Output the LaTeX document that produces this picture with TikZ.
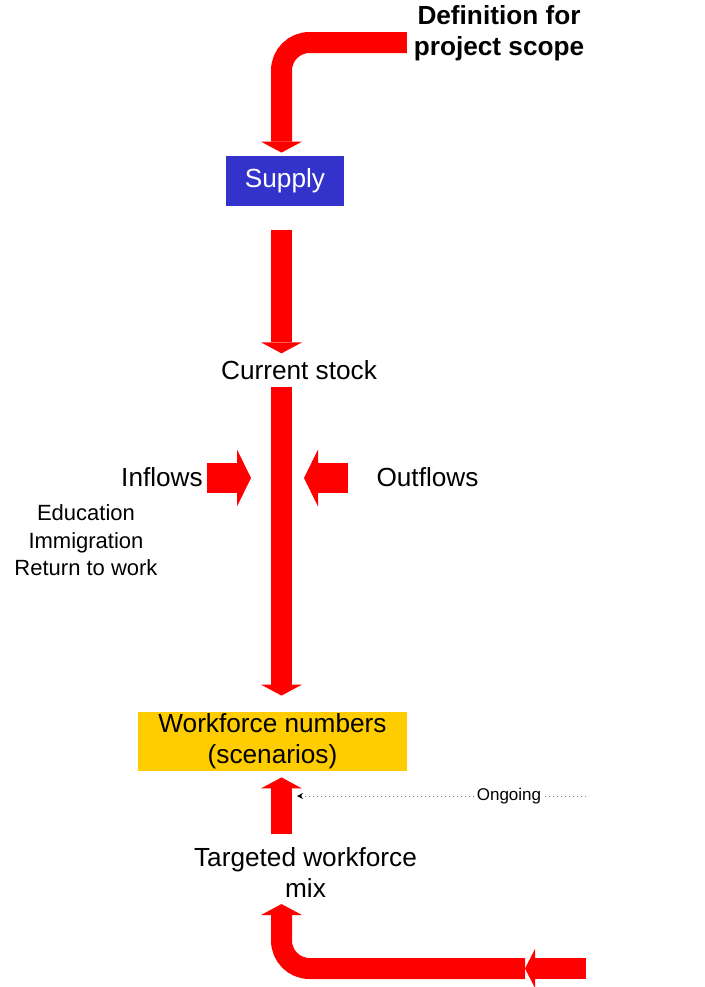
\documentclass[tikz,border=0pt]{standalone}
\usepackage{fontspec}
\setmainfont{Liberation Sans}
\usepackage{tikz}
\usetikzlibrary{arrows.meta,positioning,calc}

\definecolor{supplyblue}{HTML}{3333CC}
\definecolor{numbersyellow}{HTML}{FFCC00}

\begin{document}
\begin{tikzpicture}[x=0.5bp,y=-0.5bp,
    every node/.style={font=\fontsize{13.1bp}{15.5bp}\selectfont,align=center},
    fatarrow/.style={red,line width=10.5bp,-{Triangle[width=20.5bp,length=5.5bp,line width=0pt]}},
    flowarrow/.style={red,line width=15bp,-{Triangle[width=28.5bp,length=7bp,line width=0pt]}},
    ongoingline/.style={draw=gray,line width=0.5bp,dash pattern=on 0.6bp off 1.4bp}]

\useasboundingbox (0,0) rectangle (705,987);

\def\spinex{281.5}
\coordinate (spine) at (\spinex,0);

\node (scope) at (499,33) {\bfseries Definition for\\\bfseries project scope};
\node (supply) [fill=supplyblue,text=white,minimum width=59bp,minimum height=25bp] at (285,181) {Supply};
\node (stock) at (299,370) {Current stock};
\node (inflows) at (162,477) {Inflows};
\node (sources) [below=2bp of inflows,xshift=-38bp,font=\fontsize{11bp}{13.75bp}\selectfont] {Education\\Immigration\\Return to work};
\node (outflows) at (427.5,477) {Outflows};
\node (numbers) [fill=numbersyellow,inner ysep=0bp,minimum width=134.5bp,minimum height=29.5bp] at (272.5,741.5) {Workforce numbers\\(scenarios)};
\node (ongoing) [fill=white,inner sep=1bp,font=\fontsize{8.5bp}{10bp}\selectfont] at (509,796) {Ongoing};
\node (mix) at (305.5,872) {Targeted workforce\\mix};

\coordinate (ongoingstart) at (586,796);
\coordinate (feedstart) at (586,968.5);
\coordinate (feedjoin) at (525,968.5);

\draw [fatarrow,rounded corners=14bp] ($(scope.west)+(0,9.5)$) -| ($(supply.north -| spine)+(0,-3)$);
\draw [fatarrow] ($(supply.south -| spine)+(0,24)$) -- (stock.north -| spine);
\draw [fatarrow] (stock.south -| spine) -- ($(numbers.north -| spine)+(0,-16)$);

\draw [flowarrow] ($(inflows.east)+(-3,1)$) -- ($(inflows.east -| spine)+(-30.5,1)$);
\draw [flowarrow] ($(outflows.west)+(-22,1)$) -- ($(outflows.west -| spine)+(22.5,1)$);

\draw [fatarrow] ($(mix.north -| spine)+(0,-5.5)$) -- ($(numbers.south -| spine)+(0,6)$);
\draw [ongoingline] (ongoingstart) -- (ongoing);
\draw [ongoingline,-{Stealth[black,length=3bp,width=3bp]}] (ongoing) -- ($(ongoing -| spine)+(15.5,0)$);

\draw [fatarrow,rounded corners=14bp] (feedjoin) -| (mix.south -| spine);
\draw [fatarrow,-{Triangle[width=19.5bp,length=5bp,line width=0pt]}] (feedstart) -- (feedjoin);

\end{tikzpicture}
\end{document}
